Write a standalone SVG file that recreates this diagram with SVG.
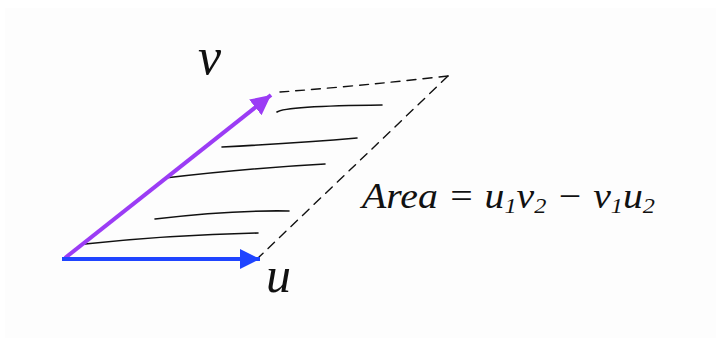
<svg xmlns="http://www.w3.org/2000/svg" width="721" height="356" viewBox="0 0 721 356">
<defs>
<style>
.hatch{fill:none;stroke:#111;stroke-width:1.6;stroke-linecap:round}
.dash{fill:none;stroke:#111;stroke-width:1.4;stroke-dasharray:9 7;stroke-linecap:round}
.lbl{font-family:"Liberation Serif",serif;font-style:italic;fill:#111}
</style>
<marker id="hb" viewBox="0 0 10 10" refX="10" refY="5" markerWidth="5" markerHeight="5" markerUnits="strokeWidth" orient="auto"><path d="M0,0 L10,5 L0,10 z" fill="#1f44ff"/></marker>
<marker id="hp" viewBox="0 0 10 10" refX="10" refY="5" markerWidth="5" markerHeight="5" markerUnits="strokeWidth" orient="auto"><path d="M0,0 L10,5 L0,10 z" fill="#9b3cf5"/></marker>
</defs>
<rect x="0" y="0" width="721" height="356" fill="#ffffff"/>
<rect x="5" y="8" width="711" height="330" fill="#fdfdfd"/>
<g id="connectors">
<path id="dashed-top" class="dash" d="M280,92 Q360,86 448,76"/>
<path id="dashed-right" class="dash" d="M448,76 Q350,170 258,258"/>
<g id="hatching">
<path class="hatch" d="M277,112 Q285,106 382,105"/>
<path class="hatch" d="M222,147 Q300,143 357,138"/>
<path class="hatch" d="M165,178 Q250,168 325,164"/>
<path class="hatch" d="M155,219 Q230,210 289,211"/>
<path class="hatch" d="M85,244 Q170,235 258,233"/>
</g>
<line id="vec-v" x1="65" y1="258" x2="271" y2="95" stroke="#9b3cf5" stroke-width="4" marker-end="url(#hp)"/>
<line id="vec-u" x1="62" y1="259" x2="260" y2="259" stroke="#1f44ff" stroke-width="4" marker-end="url(#hb)"/>
</g>
<g id="label-v"><text class="lbl" x="198" y="74" font-size="52">v</text></g>
<g id="label-u"><text class="lbl" x="266" y="292" font-size="50">u</text></g>
<g id="label-area"><text class="lbl" x="362" y="208" font-size="36" textLength="293" lengthAdjust="spacingAndGlyphs">Area = u<tspan font-size="22" dy="5">1</tspan><tspan dy="-5">v</tspan><tspan font-size="22" dy="5">2</tspan><tspan dy="-5"> − v</tspan><tspan font-size="22" dy="5">1</tspan><tspan dy="-5">u</tspan><tspan font-size="22" dy="5">2</tspan></text></g>
</svg>
